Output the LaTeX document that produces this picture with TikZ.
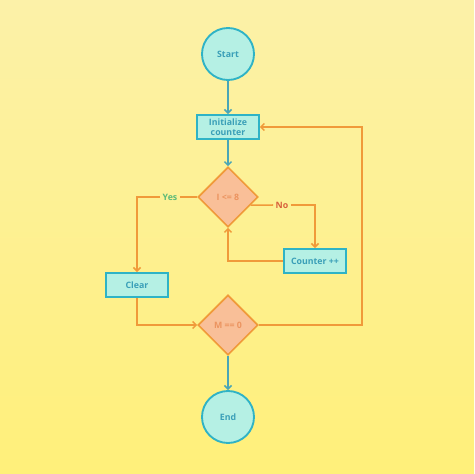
\documentclass[tikz,border=0pt]{standalone}
\usepackage{fontspec}
\setmainfont{Open Sans}
\usetikzlibrary{shapes.geometric,arrows.meta}
\definecolor{bgtop}{HTML}{FCF1A8}
\definecolor{bgbot}{HTML}{FFF07A}
\definecolor{tealfill}{HTML}{B5F0E4}
\definecolor{tealline}{HTML}{2FB3C6}
\definecolor{tealtext}{HTML}{3A9FB8}
\definecolor{tealarrow}{HTML}{4AA6B6}
\definecolor{orfill}{HTML}{F9BF98}
\definecolor{orline}{HTML}{F09A3A}
\definecolor{ortext}{HTML}{EC9460}
\definecolor{yestext}{HTML}{5DBB78}
\definecolor{notext}{HTML}{D8603C}
\tikzset{
  every node/.style={font=\fontsize{7.5}{8.5}\selectfont\bfseries},
  term/.style={circle,draw=tealline,fill=tealfill,line width=1.6pt,minimum size=1.56cm,text=tealtext},
  proc/.style={rectangle,draw=tealline,fill=tealfill,line width=1.6pt,minimum width=1.85cm,minimum height=0.72cm,align=center,inner sep=1pt,text=tealtext},
  decide/.style={diamond,draw=orline,fill=orfill,line width=1.4pt,minimum width=1.8cm,minimum height=1.8cm,inner sep=0pt,aspect=1,text=ortext},
  tealflow/.style={draw=tealarrow,line width=1.3pt,-{Straight Barb[length=3pt,width=6pt]}},
  orflow/.style={draw=orline,line width=1.3pt,-{Straight Barb[length=3pt,width=6pt]}},
  orline/.style={draw=orline,line width=1.3pt}
}
\begin{document}
\begin{tikzpicture}[x=0.03cm,y=-0.03cm]
\shade[top color=bgtop,bottom color=bgbot] (0,0) rectangle (474,474);
\useasboundingbox (0,0) rectangle (474,474);
\node[term] (start) at (228,54) {Start};
\node[proc] (init) at (228,127) {Initialize\\counter};
\node[decide] (cond) at (228,197) {I <= 8};
\node[proc] (counter) at (315,261) {Counter ++};
\node[proc] (clear) at (137,285) {Clear};
\node[decide] (check) at (228,325) {M == 0};
\node[term] (end) at (228,417) {End};
\node[text=yestext,inner sep=2pt] (yes) at (170,197) {Yes};
\node[text=notext,inner sep=2pt] (no) at (282,205) {No};
\draw[tealflow] (start) -- (init);
\draw[tealflow] (init) -- (cond);
\draw[tealflow] (check) -- (end);
\draw[orline] (cond.west) -- (yes.east);
\draw[orflow] (yes.west) -| (clear.north);
\draw[orline] (cond.-20) -- (no.west);
\draw[orflow] (no.east) -| (counter.north);
\draw[orflow] (counter.west) -| (cond.south);
\draw[orflow] (clear.south) |- (check.west);
\draw[orflow] (check.east) -- ++(103,0) |- (init.east);
\end{tikzpicture}
\end{document}
